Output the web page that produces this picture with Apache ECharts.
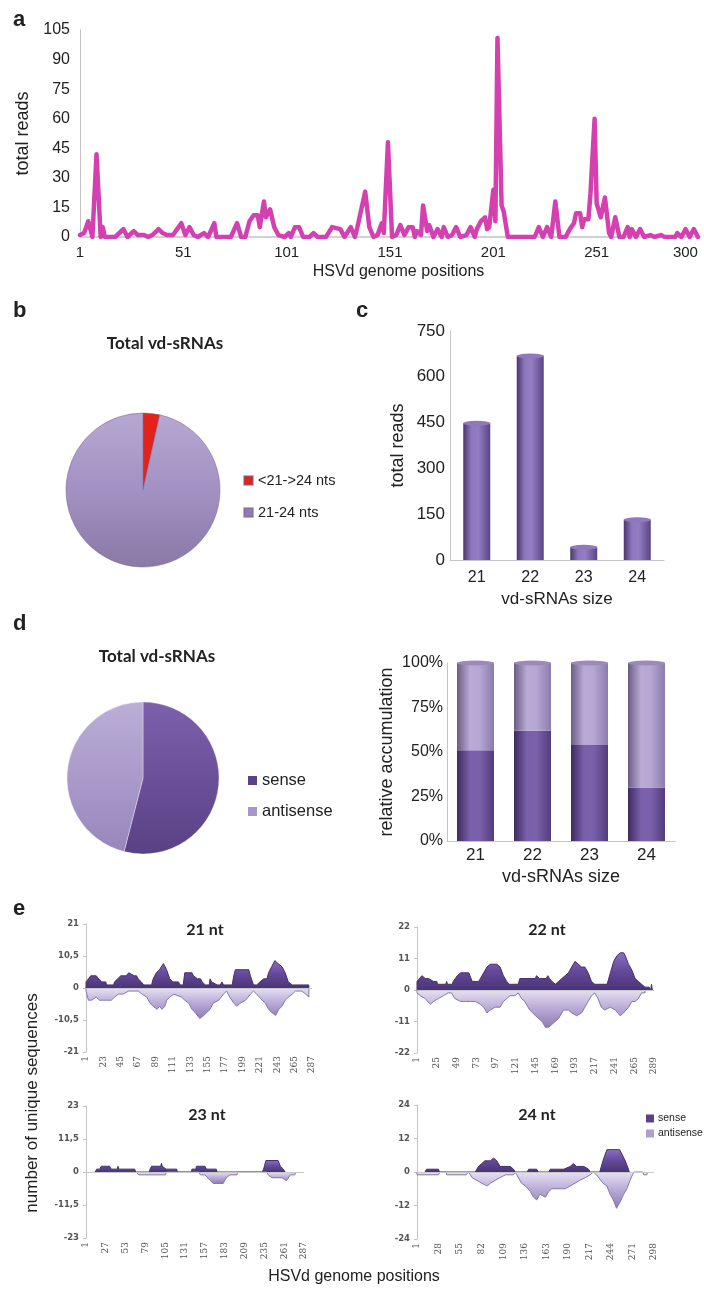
<!DOCTYPE html>
<html>
<head>
<meta charset="utf-8">
<script src="https://cdn.jsdelivr.net/npm/echarts@6/dist/echarts.min.js"></script>
<style>
  html, body { margin: 0; padding: 0; background: #ffffff; }
  #chart { width: 704px; height: 1292px; }
</style>
</head>
<body>
<div id="chart"></div>
<script>
// ---------- (a) total reads along the HSVd genome: [position, reads] ----------
const readProfile = [
  [1,1],[3,2],[5,8],[7,0],[9,42],[11,0],[12,5],[13,0],[18,0],[22,4],[24,0],[27,3],[29,1],[32,1],[34,0],
  [36,1],[39,4],[41,2],[43,1],[46,1],[50,7],[52,1],[54,5],[56,1],[58,0],[61,2],[63,0],[66,7],[67,0],
  [74,0],[77,7],[79,0],[81,0],[83,8],[85,11],[87,11],[88,5],[90,18],[91,10],[93,14],[95,5],[97,1],
  [100,0],[102,2],[103,0],[105,5],[107,5],[109,0],[112,0],[114,2],[116,0],[120,0],[123,5],[127,4],
  [129,0],[132,5],[134,0],[135,4],[139,23],[141,5],[143,0],[145,1],[147,7],[148,2],[150,48],[152,0],
  [154,1],[156,6],[158,1],[160,5],[162,5],[163,0],[164,3],[166,1],[167,16],[169,3],[170,6],[172,0],
  [174,4],[176,0],[177,5],[179,0],[181,1],[183,5],[185,0],[188,1],[190,5],[192,0],[193,4],[195,8],
  [197,10],[198,4],[199,5],[201,24],[202,8],[203,101],[205,16],[206,13],[208,0],[221,0],[223,5],
  [225,0],[227,5],[229,0],[231,18],[233,0],[236,0],[238,4],[240,7],[241,12],[243,12],[244,5],[245,9],
  [247,9],[248,22],[250,60],[251,17],[253,10],[255,20],[257,2],[258,0],[260,10],[262,0],[264,0],
  [266,5],[267,0],[268,4],[270,0],[272,4],[274,0],[277,1],[279,0],[282,1],[284,0],[289,0],[290,2],
  [292,0],[294,4],[296,0],[298,4],[300,0]
];
const genomeTicks = [1, 51, 101, 151, 201, 251, 300];

// ---------- (b) size classes of all vd-sRNAs (%) ----------
const sizeClassNames = ['<21->24 nts', '21-24 nts'];
const sizeClassShare = [3.5, 96.5];

// ---------- (c) total reads per vd-sRNA size ----------
const sizeCategories = ['21', '22', '23', '24'];
const readsBySize = [448, 668, 42, 132];

// ---------- (d) strand polarity (%) ----------
const strandNames = ['sense', 'antisense'];
const strandShare = [54, 46];
const senseShareBySize = [51, 62, 54, 30];
const antisenseShareBySize = [49, 38, 46, 70];

// ---------- (e) unique sequences per position: [position, count] ----------
const sense21 = [[1,0],[1,2],[4,3],[7,4],[14,4],[17,3],[21,2],[26,2],[27,1],[36,1],[37,2],[41,3],[45,4],[52,4],[55,5],[62,4],[65,4],[67,3],[71,2],[74,1],[84,1],[86,3],[90,5],[94,6],[99,8],[103,6],[107,3],[111,2],[118,2],[120,1],[124,1],[126,5],[135,5],[137,4],[142,3],[146,3],[148,2],[152,1],[157,1],[158,3],[160,2],[167,1],[171,1],[173,2],[175,1],[186,1],[188,4],[190,6],[207,6],[209,4],[213,1],[217,1],[221,2],[226,3],[230,3],[232,5],[236,7],[240,9],[244,8],[249,7],[253,5],[257,2],[262,1],[283,1],[283,0]];
const anti21 = [[1,0],[1,-1],[4,-4],[8,-4],[14,-3],[18,-4],[23,-4],[27,-4],[33,-4],[37,-3],[42,-2],[48,-2],[55,-1],[67,-1],[72,-2],[78,-3],[82,-5],[86,-6],[91,-7],[94,-6],[97,-7],[101,-6],[103,-4],[107,-3],[112,-2],[122,-3],[126,-4],[131,-5],[135,-7],[139,-8],[145,-10],[150,-9],[154,-8],[158,-7],[162,-5],[169,-4],[175,-2],[179,-1],[183,-3],[188,-5],[192,-6],[196,-5],[203,-4],[209,-2],[213,-1],[217,-2],[224,-4],[228,-5],[232,-7],[236,-8],[241,-9],[245,-7],[249,-6],[253,-4],[257,-3],[262,-2],[266,-1],[274,-1],[279,-2],[283,-3],[283,0]];
const sense22 = [[1,0],[1,3],[3,3],[7,5],[11,4],[15,4],[21,3],[25,3],[26,2],[36,2],[37,3],[38,2],[44,2],[45,3],[50,5],[54,6],[58,6],[64,6],[68,3],[76,3],[78,4],[82,6],[86,8],[90,9],[98,9],[102,8],[106,5],[110,3],[113,2],[124,2],[126,4],[145,4],[146,5],[150,4],[158,4],[160,5],[162,4],[165,3],[169,2],[173,3],[177,4],[181,5],[185,6],[189,8],[193,10],[197,9],[201,8],[205,8],[209,6],[213,3],[217,2],[232,2],[236,6],[240,10],[244,12],[248,13],[252,13],[254,12],[258,9],[262,7],[266,4],[270,3],[274,2],[278,1],[283,1],[285,0],[286,2],[287,0]];
const anti22 = [[1,0],[1,-1],[5,-2],[11,-3],[17,-5],[21,-4],[27,-3],[33,-2],[39,-1],[43,-1],[47,-3],[54,-4],[60,-4],[66,-4],[72,-4],[78,-5],[82,-6],[86,-8],[90,-7],[96,-6],[102,-6],[106,-4],[110,-3],[114,-2],[120,-2],[124,-1],[128,-3],[132,-4],[138,-7],[145,-9],[149,-10],[153,-11],[157,-13],[161,-13],[165,-12],[169,-11],[173,-10],[179,-7],[185,-7],[189,-8],[195,-9],[201,-8],[205,-6],[209,-4],[213,-2],[217,-1],[221,-3],[225,-6],[229,-7],[236,-6],[242,-7],[248,-9],[252,-8],[258,-6],[262,-4],[266,-4],[270,-3],[274,-1],[278,-1],[278,0]];
const sense23 = [[13,0],[15,1],[19,1],[21,2],[32,2],[34,1],[42,1],[43,2],[44,1],[65,1],[66,0],[84,0],[85,1],[87,2],[99,2],[100,3],[101,2],[106,1],[120,1],[121,0],[139,0],[140,1],[145,1],[146,2],[157,2],[159,1],[172,1],[173,0],[232,0],[234,1],[237,4],[253,4],[256,2],[260,1],[262,0]];
const anti23 = [[67,0],[70,-1],[105,-1],[107,0],[149,0],[151,-1],[157,-1],[164,-3],[168,-4],[181,-4],[185,-2],[190,-1],[199,-1],[200,0],[238,0],[240,-1],[245,-2],[258,-2],[264,-3],[269,-1],[275,-1],[276,0]];
const sense24 = [[11,0],[13,1],[28,1],[29,0],[74,0],[76,1],[78,2],[82,3],[86,4],[93,4],[97,5],[101,4],[105,2],[118,2],[122,1],[124,0],[139,0],[141,1],[151,1],[153,0],[166,0],[168,1],[185,1],[193,2],[197,3],[201,2],[210,2],[216,1],[218,0],[230,0],[234,4],[239,8],[255,8],[262,4],[266,1],[267,0]];
const anti24 = [[1,0],[1,-1],[28,-1],[30,0],[38,0],[38,-1],[63,-1],[65,0],[68,-1],[70,-2],[76,-3],[82,-4],[89,-5],[93,-4],[99,-3],[105,-2],[112,-1],[122,-1],[124,0],[126,-1],[132,-4],[137,-5],[143,-7],[147,-9],[151,-10],[155,-8],[162,-9],[166,-7],[170,-6],[187,-6],[193,-5],[199,-4],[205,-3],[212,-2],[218,-1],[222,0],[226,-1],[234,-4],[239,-5],[243,-8],[247,-10],[251,-13],[255,-11],[260,-8],[264,-6],[268,-3],[271,-1],[273,0],[284,0],[285,-1],[289,-1],[290,0]];
const ticks21 = [1, 23, 45, 67, 89, 111, 133, 155, 177, 199, 221, 243, 265, 287];
const ticks22 = [1, 25, 49, 73, 97, 121, 145, 169, 193, 217, 241, 265, 289];
const ticks23 = [1, 27, 53, 79, 105, 131, 157, 183, 209, 235, 261, 287];
const ticks24 = [1, 28, 55, 82, 109, 136, 163, 190, 217, 244, 271, 298];
const sizePanelTitles = ['21 nt', '22 nt', '23 nt', '24 nt'];
const sizePanelLimits = [21, 22, 23, 24];

// ---------- drawing ----------
const FONT = 'Liberation Sans, Arial, sans-serif';
const HEAD = 'Lato, "Open Sans", sans-serif';
const SMALL = '"DejaVu Serif", serif';
const INK = '#222222';
const AXIS = '#c4c4c4';

const lin = (x0, y0, x1, y1, stops, global) =>
  new echarts.graphic.LinearGradient(x0, y0, x1, y1,
    stops.map(s => ({ offset: s[0], color: s[1] })), !!global);

const barBody = lin(0, 0, 1, 0, [[0, '#4a366d'], [0.3, '#8f77bf'], [0.55, '#957dc4'], [1, '#5a4484']]);
const senseBody = lin(0, 0, 1, 0, [[0, '#3d2b5e'], [0.35, '#7a60aa'], [0.6, '#7b61ab'], [1, '#533d7d']]);
const antiBody = lin(0, 0, 1, 0, [[0, '#6a5d84'], [0.35, '#b9aad6'], [0.6, '#b6a7d4'], [1, '#8c7cae']]);

// sub-panel geometry for (e)
const eBoxes = [
  { left: 86, top: 924, width: 226, height: 128, max: 287, ticks: ticks21, tx: 205, ty: 930 },
  { left: 417, top: 927, width: 237, height: 126, max: 289, ticks: ticks22, tx: 547, ty: 930 },
  { left: 86, top: 1106, width: 218, height: 132, max: 287, ticks: ticks23, tx: 207, ty: 1115 },
  { left: 417, top: 1105, width: 237, height: 134, max: 298, ticks: ticks24, tx: 537, ty: 1115 }
];
const eSense = [sense21, sense22, sense23, sense24];
const eAnti = [anti21, anti22, anti23, anti24];

const grids = [
  { left: 80, top: 30, width: 620, height: 207 },   // a
  { left: 450, top: 331, width: 214, height: 229 }, // c
  { left: 447, top: 663, width: 228, height: 178 }  // d (bars)
].concat(eBoxes.map(b => ({ left: b.left, top: b.top, width: b.width, height: b.height })));
grids.forEach(g => { g.containLabel = false; g.outerBoundsMode = 'none'; });

const xAxes = [
  {
    gridIndex: 0, type: 'value', min: 1, max: 301,
    axisLine: { lineStyle: { color: AXIS, width: 1.5 } }, axisTick: { show: false }, splitLine: { show: false },
    axisLabel: { customValues: genomeTicks, fontSize: 15, color: INK, fontFamily: FONT, margin: 8, alignMaxLabel: 'right' },
    name: 'HSVd genome positions', nameLocation: 'middle', nameGap: 27,
    nameTextStyle: { fontSize: 16, color: INK, fontFamily: FONT, padding: [0, 0, 0, 17] }
  },
  {
    gridIndex: 1, type: 'category', data: sizeCategories,
    axisLine: { lineStyle: { color: AXIS } }, axisTick: { show: false },
    axisLabel: { fontSize: 16, color: INK, fontFamily: FONT, margin: 10 },
    name: 'vd-sRNAs size', nameLocation: 'middle', nameGap: 31,
    nameTextStyle: { fontSize: 17, color: INK, fontFamily: FONT }
  },
  {
    gridIndex: 2, type: 'category', data: sizeCategories,
    axisLine: { lineStyle: { color: AXIS } }, axisTick: { show: false },
    axisLabel: { fontSize: 17, color: INK, fontFamily: FONT, margin: 6 },
    name: 'vd-sRNAs size', nameLocation: 'middle', nameGap: 27,
    nameTextStyle: { fontSize: 18, color: INK, fontFamily: FONT }
  }
].concat(eBoxes.map((b, i) => ({
  gridIndex: 3 + i, type: 'value', min: 1, max: b.max,
  axisLine: { show: false, onZero: false }, axisTick: { show: false }, splitLine: { show: false },
  axisLabel: { customValues: b.ticks, rotate: 90, fontSize: 9, color: '#555', fontFamily: SMALL, margin: 4 }
})));

const yAxes = [
  {
    gridIndex: 0, type: 'value', min: 0, max: 105, interval: 15,
    axisLine: { show: true, lineStyle: { color: AXIS } }, axisTick: { show: false }, splitLine: { show: false },
    axisLabel: { fontSize: 16, color: INK, fontFamily: FONT, margin: 10 },
    name: 'total reads', nameLocation: 'middle', nameGap: 38,
    nameTextStyle: { fontSize: 18, color: INK, fontFamily: FONT }
  },
  {
    gridIndex: 1, type: 'value', min: 0, max: 750, interval: 150,
    axisLine: { show: true, lineStyle: { color: AXIS } }, axisTick: { show: false }, splitLine: { show: false },
    axisLabel: { fontSize: 17, color: INK, fontFamily: FONT, margin: 5 },
    name: 'total reads', nameLocation: 'middle', nameGap: 43,
    nameTextStyle: { fontSize: 18, color: INK, fontFamily: FONT }
  },
  {
    gridIndex: 2, type: 'value', min: 0, max: 100, interval: 25,
    axisLine: { show: true, lineStyle: { color: AXIS } }, axisTick: { show: false }, splitLine: { show: false },
    axisLabel: { fontSize: 16, color: INK, fontFamily: FONT, margin: 4, formatter: v => v + '%' },
    name: 'relative accumulation', nameLocation: 'middle', nameGap: 51,
    nameTextStyle: { fontSize: 18, color: INK, fontFamily: FONT }
  }
].concat(eBoxes.map((b, i) => {
  const lim = sizePanelLimits[i];
  return {
    gridIndex: 3 + i, type: 'value', min: -lim, max: lim, interval: lim / 2,
    axisLine: { show: true, lineStyle: { color: AXIS } },
    axisTick: { show: true, length: 3, lineStyle: { color: AXIS } }, splitLine: { show: false },
    axisLabel: { fontSize: 8.5, color: '#555', fontFamily: '"DejaVu Sans", sans-serif', margin: 7, fontWeight: 'bold',
      formatter: v => String(v).replace('.', ',') }
  };
}));

const series = [];

// (a) read profile
series.push({
  type: 'line', xAxisIndex: 0, yAxisIndex: 0, data: readProfile, showSymbol: false, silent: true,
  lineStyle: { color: '#d540b0', width: 4.5, join: 'round', cap: 'round' }, itemStyle: { color: '#d540b0' }
});

// (b) size classes pie
series.push({
  type: 'pie', center: [143, 490], radius: 77, startAngle: 90, clockwise: true, silent: true,
  label: { show: false }, labelLine: { show: false },
  itemStyle: { borderColor: 'rgba(120,100,150,0.5)', borderWidth: 1 },
  data: sizeClassNames.map((n, i) => ({
    name: n, value: sizeClassShare[i],
    itemStyle: { color: i === 0 ? '#e2231a'
      : lin(0, 413, 0, 567, [[0, '#b6a8d2'], [0.5, '#a291c2'], [1, '#8a79a6']], true) }
  }))
});

// (c) reads per size: cylinder bars
series.push({
  type: 'bar', xAxisIndex: 1, yAxisIndex: 1, data: readsBySize, barWidth: 27, silent: true,
  itemStyle: { color: barBody }
});
series.push({
  type: 'pictorialBar', xAxisIndex: 1, yAxisIndex: 1, data: readsBySize, silent: true,
  symbol: 'circle', symbolSize: [27, 5], symbolPosition: 'end', symbolOffset: [0, '-50%'],
  itemStyle: { color: '#8f78bb' }, z: 3
});

// (d) strand pie
series.push({
  type: 'pie', center: [143, 778], radius: 76, startAngle: 90, clockwise: true, silent: true,
  label: { show: false }, labelLine: { show: false },
  itemStyle: { borderColor: 'rgba(255,255,255,0.35)', borderWidth: 1 },
  data: strandNames.map((n, i) => ({
    name: n, value: strandShare[i],
    itemStyle: { color: i === 0
      ? lin(0, 702, 0, 854, [[0, '#7c60ad'], [1, '#5a4184']], true)
      : lin(0, 702, 0, 854, [[0, '#bbaed8'], [1, '#9786bb']], true) }
  }))
});

// (d) relative accumulation per size: stacked cylinders
series.push({
  type: 'bar', name: 'sense', xAxisIndex: 2, yAxisIndex: 2, stack: 'strand', data: senseShareBySize,
  barWidth: 37, silent: true, itemStyle: { color: senseBody }
});
series.push({
  type: 'bar', name: 'antisense', xAxisIndex: 2, yAxisIndex: 2, stack: 'strand', data: antisenseShareBySize,
  barWidth: 37, silent: true, itemStyle: { color: antiBody }
});
series.push({
  type: 'pictorialBar', xAxisIndex: 2, yAxisIndex: 2, silent: true,
  data: senseShareBySize.map((s, i) => s + antisenseShareBySize[i]),
  symbol: 'circle', symbolSize: [37, 5], symbolPosition: 'end', symbolOffset: [0, '-50%'],
  itemStyle: { color: '#9a8bb8' }, z: 3
});

// (e) sense / antisense profiles per size
eBoxes.forEach((b, i) => {
  series.push({
    type: 'line', name: 'sense', xAxisIndex: 3 + i, yAxisIndex: 3 + i, data: eSense[i],
    showSymbol: false, silent: true,
    lineStyle: { color: '#45306a', width: 1 },
    itemStyle: { color: '#5b4287' },
    areaStyle: { color: lin(0, 0, 0, 1, [[0, '#8a6fc0'], [0.5, '#64499a'], [1, '#4a3474']]), opacity: 1 },
    markLine: {
      silent: true, symbol: 'none', label: { show: false },
      lineStyle: { color: '#c8c8c8', width: 1, type: 'solid' },
      data: [{ yAxis: 0 }]
    }
  });
  series.push({
    type: 'line', name: 'antisense', xAxisIndex: 3 + i, yAxisIndex: 3 + i, data: eAnti[i],
    showSymbol: false, silent: true,
    lineStyle: { color: '#8677aa', width: 1 },
    itemStyle: { color: '#b2a5d2' },
    areaStyle: { color: lin(0, 0, 0, 1, [[0, '#e6e0f2'], [0.5, '#b8aad6'], [1, '#8e7db3']]), opacity: 1 }
  });
});

const txt = (text, x, y, font, align, extra) => Object.assign({
  type: 'text', x: x, y: y, silent: true,
  style: { text: text, font: font, fill: INK, textAlign: align || 'left', textVerticalAlign: 'middle' }
}, extra || {});

const graphic = [
  txt('a', 13, 20, 'bold 22px ' + FONT),
  txt('b', 13, 311, 'bold 22px ' + FONT),
  txt('c', 356, 311, 'bold 22px ' + FONT),
  txt('d', 13, 624, 'bold 22px ' + FONT),
  txt('e', 13, 909, 'bold 22px ' + FONT),
  txt('Total vd-sRNAs', 165, 344, 'bold 17px ' + HEAD, 'center'),
  txt('Total vd-sRNAs', 157, 657, 'bold 17px ' + HEAD, 'center'),
  txt('HSVd genome positions', 354, 1277, '16px ' + FONT, 'center'),
  txt('number of unique sequences', 32, 1103, '17px ' + FONT, 'center', { rotation: Math.PI / 2 })
].concat(eBoxes.map((b, i) => txt(sizePanelTitles[i], b.tx, b.ty, 'bold 16px ' + HEAD, 'center')));

const legend = [
  {
    left: 238, top: 468, orient: 'vertical', icon: 'rect', itemWidth: 9, itemHeight: 9, itemGap: 17,
    selectedMode: false, textStyle: { fontSize: 14.5, color: INK, fontFamily: FONT },
    data: [
      { name: sizeClassNames[0], itemStyle: { color: '#e2231a' } },
      { name: sizeClassNames[1], itemStyle: { color: '#8e7cae' } }
    ]
  },
  {
    left: 243, top: 767, orient: 'vertical', icon: 'rect', itemWidth: 9, itemHeight: 9, itemGap: 14,
    selectedMode: false, textStyle: { fontSize: 16.5, color: INK, fontFamily: FONT },
    data: [
      { name: strandNames[0], itemStyle: { color: '#5b4287' } },
      { name: strandNames[1], itemStyle: { color: '#a597c8' } }
    ]
  },
  {
    left: 641, top: 1108, orient: 'vertical', icon: 'rect', itemWidth: 8, itemHeight: 8, itemGap: 4,
    itemStyle: {}, selectedMode: false, textStyle: { fontSize: 10.5, color: INK, fontFamily: FONT, padding: [0, 0, 0, -1] },
    data: [
      { name: strandNames[0], itemStyle: { color: '#5b4287' } },
      { name: strandNames[1], itemStyle: { color: '#ad9fcf' } }
    ]
  }
];

const chart = echarts.init(document.getElementById('chart'), null, { renderer: 'canvas' });
chart.setOption({
  backgroundColor: '#ffffff',
  animation: false,
  grid: grids,
  xAxis: xAxes,
  yAxis: yAxes,
  legend: legend,
  graphic: graphic,
  series: series
});
</script>
</body>
</html>
